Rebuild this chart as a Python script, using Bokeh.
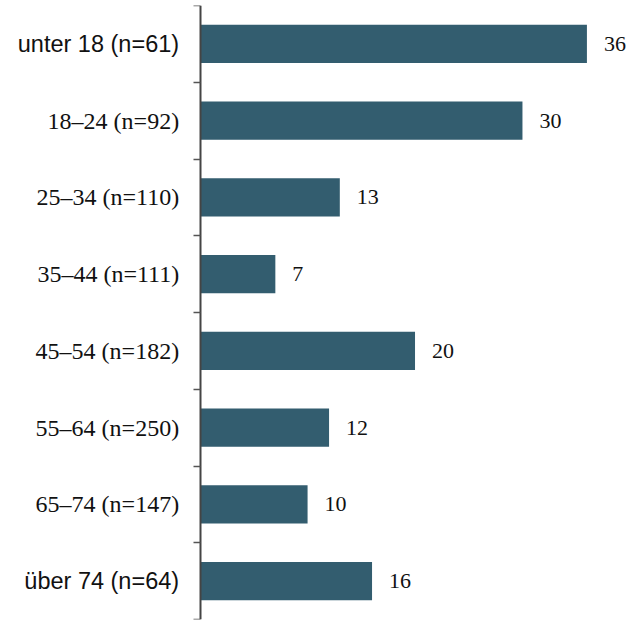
from bokeh.plotting import figure
from bokeh.models import ColumnDataSource, LabelSet, FixedTicker, Range1d, LinearAxis
from bokeh.core.properties import value
from bokeh.embed import file_html
from bokeh.resources import INLINE

categories = ["unter 18 (n=61)", "18–24 (n=92)", "25–34 (n=110)", "35–44 (n=111)",
              "45–54 (n=182)", "55–64 (n=250)", "65–74 (n=147)", "über 74 (n=64)"]
values = [36, 30, 13, 7, 20, 12, 10, 16]
sans_labels = ["unter 18 (n=61)", "über 74 (n=64)"]

n = len(categories)
ypos = [n - 0.5 - i for i in range(n)]
boundaries = list(range(n + 1))

BAR = "#335d6f"
W, H = 629, 620
AXIS_PX = 201      # where the value axis sits on the canvas
PX_PER_UNIT = 10.71
PANEL = 2          # width of the (empty) left axis panel

p = figure(width=W, height=H, output_backend="svg", toolbar_location=None,
           y_axis_location=None,
           x_range=Range1d(-(AXIS_PX - PANEL) / PX_PER_UNIT, (W - AXIS_PX) / PX_PER_UNIT),
           y_range=Range1d(0, n),
           min_border_left=0, min_border_right=0, min_border_top=5, min_border_bottom=1)
p.outline_line_color = None
p.grid.visible = False
p.xaxis.visible = False

yax = LinearAxis(fixed_location=0, ticker=FixedTicker(ticks=boundaries),
                 major_label_overrides={b: "" for b in boundaries},
                 major_label_standoff=0,
                 axis_line_color="#444444", axis_line_width=2,
                 major_tick_line_color="#555555", major_tick_line_width=1.5,
                 major_tick_out=7, major_tick_in=0, minor_tick_line_color=None)
p.add_layout(yax, "left")

src = ColumnDataSource(dict(y=ypos, v=values, vt=[str(v) for v in values]))
p.hbar(y="y", left=0, right="v", height=0.5, source=src, fill_color=BAR, line_color=None)

p.add_layout(LabelSet(x="v", y="y", text="vt", source=src, x_offset=17,
                      text_align="left", text_baseline="middle",
                      text_font=value("Liberation Serif"), text_font_size=value("22px"),
                      text_color="#111111"))

sans_src = ColumnDataSource(dict(
    y=[y for y, c in zip(ypos, categories) if c in sans_labels],
    x=[0 for c in categories if c in sans_labels],
    t=[c for c in categories if c in sans_labels]))
serif_src = ColumnDataSource(dict(
    y=[y for y, c in zip(ypos, categories) if c not in sans_labels],
    x=[0 for c in categories if c not in sans_labels],
    t=[c for c in categories if c not in sans_labels]))

p.add_layout(LabelSet(x="x", y="y", text="t", source=sans_src, x_offset=-21,
                      text_align="right", text_baseline="middle",
                      text_font=value("Liberation Sans"), text_font_size=value("23.5px"),
                      text_color="#111111"))
p.add_layout(LabelSet(x="x", y="y", text="t", source=serif_src, x_offset=-21,
                      text_align="right", text_baseline="middle",
                      text_font=value("Liberation Serif"), text_font_size=value("24px"),
                      text_color="#111111"))

open("out.html", "w").write(file_html(p, INLINE))
